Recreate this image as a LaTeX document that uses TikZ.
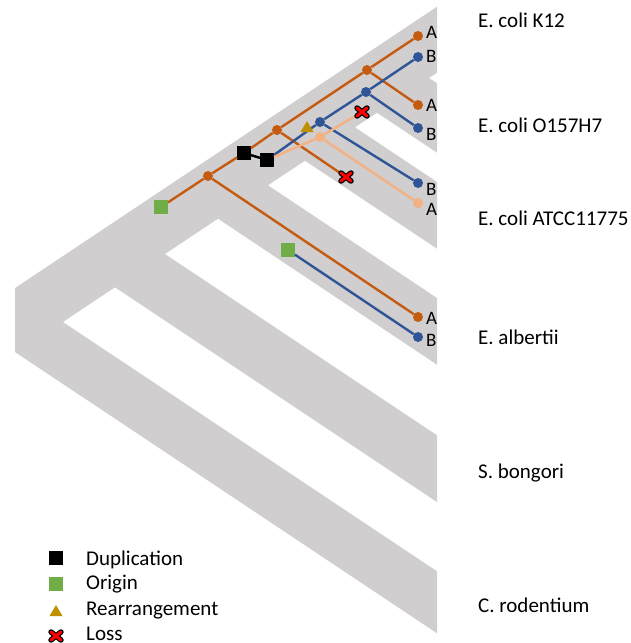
\documentclass[tikz,border=0pt]{standalone}
\usepackage{fontspec}
\setmainfont{Carlito}
\usepackage{tikz}
\usetikzlibrary{calc}
\definecolor{treegray}{HTML}{D0CECE}
\definecolor{geneorange}{HTML}{C55A11}
\definecolor{geneblue}{HTML}{2F5597}
\definecolor{genepeach}{HTML}{F4B183}
\definecolor{origingreen}{HTML}{70AD47}
\definecolor{rearrgold}{HTML}{BF9000}
\newcommand{\genenode}[4]{\node[genedot, fill=#1] (#2) at ( #3 , #4 ) {};}
\newcommand{\rearr}[1]{\fill[rearrgold, shift={(#1)}] (-6.5,5) -- (6.5,5) -- (0,-6) -- cycle;}
\newcommand{\lossx}[1]{\draw[lossout, shift={(#1)}] (-5,-4) -- (5,4) (-5,4) -- (5,-4); \draw[lossin, shift={(#1)}] (-5,-4) -- (5,4) (-5,4) -- (5,-4);}

\begin{document}
\begin{tikzpicture}[x=1pt, y=-1pt,
    genedot/.style={circle, inner sep=0pt, minimum size=10pt},
    dupbox/.style={rectangle, fill=black, inner sep=0pt, minimum size=13.5pt},
    originbox/.style={rectangle, fill=origingreen, inner sep=0pt, minimum size=13.5pt},
    geneline/.style={line width=2.4pt},
    lossout/.style={black, line width=5.5pt, line cap=round},
    lossin/.style={red, line width=3pt, line cap=round},
    species/.style={anchor=base west, inner sep=0pt, font=\fontsize{21}{25}\selectfont},
    copylabel/.style={anchor=west, inner sep=0pt, font=\fontsize{19}{22}\selectfont},
    legendtext/.style={anchor=base west, inner sep=0pt, font=\fontsize{21}{25}\selectfont}]
        \useasboundingbox (0,0) rectangle (630,643);
        % species tree
        \fill[treegray] (15,288) -- (437,6.7) -- (437,72.7) -- (429,78) -- (437,83.3)
            -- (437,152.7) -- (377,112.7) -- (355,127.3) -- (437,182)
            -- (437,248.7) -- (305,160.7) -- (268,185.3) -- (437,298)
            -- (437,364.7) -- (218,218.7) -- (165,254) -- (437,435.3)
            -- (437,502) -- (115,287.3) -- (63,322) -- (437,571.3)
            -- (437,633.3) -- (15,352) -- cycle;
        % species names
        \node[species] (k12) at (478,27) {E. coli K12};
        \node[species] (o157) at (478,132) {E. coli O157H7};
        \node[species] (atcc) at (478,225) {E. coli ATCC11775};
        \node[species] (albertii) at (478,344) {E. albertii};
        \node[species] (bongori) at (478,478) {S. bongori};
        \node[species] (rodentium) at (478,612) {C. rodentium};
        % events
        \node[originbox] (orig1) at (161,207) {};
        \node[originbox] (orig2) at (288,250) {};
        \node[dupbox] (dup1) at (244,153) {};
        \node[dupbox] (dup2) at (267,160) {};
        \coordinate (rea1) at (307,127);
        \coordinate (loss1) at (346,177);
        \coordinate (loss2) at (362,112);
        % copy A
        \genenode{geneorange}{o1}{208}{176}
        \genenode{geneorange}{o2}{277}{130}
        \genenode{geneorange}{o3}{367}{70}
        \genenode{geneorange}{k12a}{418}{36}
        \genenode{geneorange}{o157a}{418}{105}
        \genenode{geneorange}{albera}{418}{317}
        \genenode{genepeach}{p1}{320}{137}
        \genenode{genepeach}{atcca}{418}{203}
        % copy B
        \genenode{geneblue}{b1}{320}{122}
        \genenode{geneblue}{b2}{366}{92}
        \genenode{geneblue}{k12b}{418}{57}
        \genenode{geneblue}{o157b}{418}{128}
        \genenode{geneblue}{atccb}{418}{183}
        \genenode{geneblue}{alberb}{418}{337}
        % gene tree
        \draw[geneline, geneorange] (orig1) -- (o1) -- (dup1) -- (o2) -- (o3) -- (k12a);
        \draw[geneline, geneorange] (o3) -- (o157a);
        \draw[geneline, geneorange] (o2) -- (loss1);
        \draw[geneline, geneorange] (o1) -- (albera);
        \draw[geneline, black] (dup1) -- (dup2);
        \draw[geneline, geneblue] (dup2) -- (b1) -- (b2) -- (k12b);
        \draw[geneline, geneblue] (b2) -- (o157b);
        \draw[geneline, geneblue] (b1) -- (atccb);
        \draw[geneline, geneblue] (orig2) -- (alberb);
        \draw[geneline, genepeach] (dup2) -- (p1) -- (loss2);
        \draw[geneline, genepeach] (p1) -- (atcca);
        \rearr{rea1}
        \lossx{loss1}
        \lossx{loss2}
        % copy labels
        \node[copylabel] (lk12a) at (426,32) {A};
        \node[copylabel] (lk12b) at (426,56) {B};
        \node[copylabel] (lo157a) at (426,105) {A};
        \node[copylabel] (lo157b) at (426,134) {B};
        \node[copylabel] (latccb) at (426,189) {B};
        \node[copylabel] (latcca) at (426,209) {A};
        \node[copylabel] (lalbera) at (426,318) {A};
        \node[copylabel] (lalberb) at (426,340) {B};
        % legend
        \node[dupbox] (legdup) at (56,558) {};
        \node[originbox] (legorig) at (56,584) {};
        \coordinate (legrearr) at (56,611);
        \coordinate (legloss) at (56,636);
        \rearr{legrearr}
        \lossx{legloss}
        \node[legendtext] (tdup) at (86,565) {Duplication};
        \node[legendtext] (torig) at (86,589) {Origin};
        \node[legendtext] (trearr) at (86,615) {Rearrangement};
        \node[legendtext] (tloss) at (86,640) {Loss};
    \end{tikzpicture}
\end{document}
